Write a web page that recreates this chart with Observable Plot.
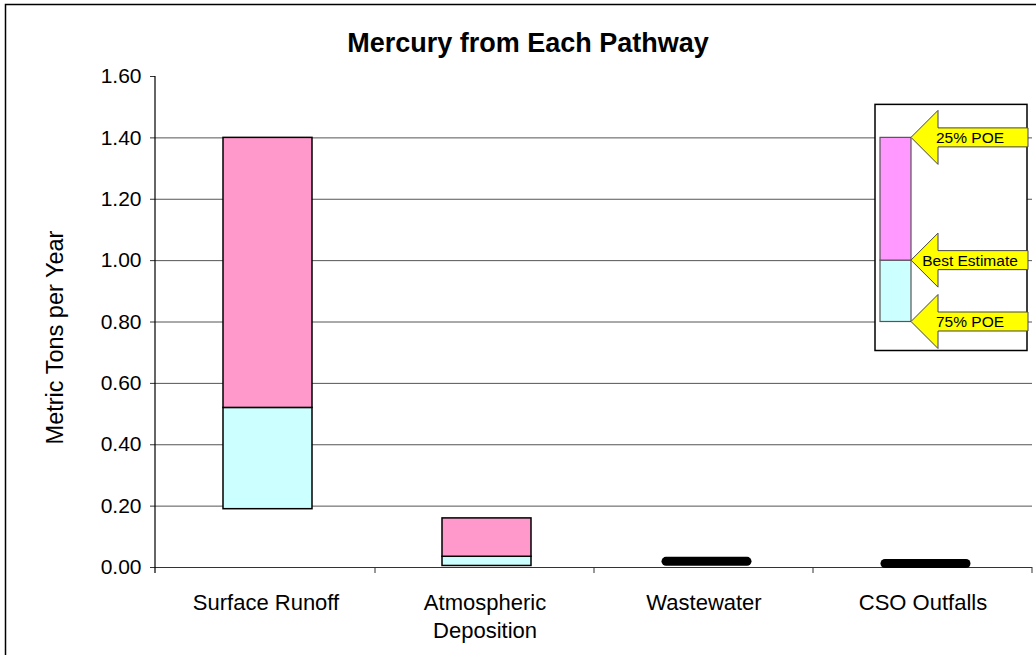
<!DOCTYPE html>
<html>
<head>
<meta charset="utf-8">
<script src="https://cdn.jsdelivr.net/npm/d3@7"></script>
<script src="https://cdn.jsdelivr.net/npm/@observablehq/plot@0.6"></script>
<style>
  html, body { margin: 0; padding: 0; background: #fff; }
  #chart { width: 1036px; height: 655px; overflow: hidden; }
</style>
</head>
<body>
<div id="chart"></div>
<script>
// ---- data ----
const categories = ["Surface Runoff", "Atmospheric Deposition", "Wastewater", "CSO Outfalls"];
const categoryLabels = ["Surface Runoff", "Atmospheric\nDeposition", "Wastewater", "CSO Outfalls"];
const low75 = [0.19, 0.005, 0.017, 0.011];   // 75% POE
const best = [0.52, 0.035, 0.020, 0.013];    // Best Estimate
const high25 = [1.40, 0.16, 0.023, 0.015];   // 25% POE
const yTicks = [0, 0.2, 0.4, 0.6, 0.8, 1.0, 1.2, 1.4, 1.6];
const gridTicks = [0.2, 0.4, 0.6, 0.8, 1.0, 1.2, 1.4];
const titleText = "Mercury from Each Pathway";
const yLabel = "Metric Tons per Year";
const legendLevels = [1.4, 1.0, 0.8];
const legendLabels = ["25% POE", "Best Estimate", "75% POE"];

const table = categories.map((c, i) => ({category: c, low: low75[i], best: best[i], high: high25[i]}));
const wide = table.filter(d => d.high - d.low >= 0.05);
const thin = table.filter(d => d.high - d.low < 0.05);
const labelOf = new Map(categories.map((c, i) => [c, categoryLabels[i]]));

const FONT = "'Liberation Sans', Arial, Helvetica, sans-serif";

const plot = Plot.plot({
  width: 1036,
  height: 655,
  marginLeft: 155,
  marginRight: 4,
  marginTop: 76,
  marginBottom: 88,
  style: {fontFamily: FONT, fontSize: "21px", color: "#000", background: "#fff"},
  x: {type: "band", domain: categories, padding: 0, axis: null},
  y: {domain: [0, 1.6], axis: null},
  marks: [
    Plot.gridY(gridTicks, {stroke: "#555", strokeOpacity: 1, strokeWidth: 1}),
    Plot.barY(wide, {x: "category", y1: "low", y2: "best", fill: "#CCFFFF", stroke: "#000", strokeWidth: 1.5, insetLeft: 67, insetRight: 63}),
    Plot.barY(wide, {x: "category", y1: "best", y2: "high", fill: "#FF99CC", stroke: "#000", strokeWidth: 1.5, insetLeft: 67, insetRight: 63}),
    Plot.ruleY([0], {stroke: "#333", strokeWidth: 1}),
    Plot.tickY(thin, {x: "category", y: "best", stroke: "#000", strokeWidth: 9, strokeLinecap: "round", insetLeft: 72, insetRight: 66}),
    Plot.axisY(yTicks, {tickSize: 5, tickPadding: 9, tickFormat: d3.format(".2f"), fontSize: 21, stroke: "#333", label: null}),
    Plot.axisX({tickSize: 0, tickPadding: 23, tickFormat: d => labelOf.get(d), fontSize: 22, lineHeight: 1.27, label: null}),
    Plot.text([titleText], {frameAnchor: "top", dx: -66, dy: -33, text: d => d, fontSize: 27, fontWeight: "bold", lineAnchor: "middle"}),
    Plot.text([yLabel], {frameAnchor: "left", dx: -100, dy: 15.5, text: d => d, rotate: -90, textAnchor: "middle", lineAnchor: "middle", fontSize: 23.5})
  ]
});

document.getElementById("chart").appendChild(plot);

// ---- decorations using the plot's own scales ----
const xs = plot.scale("x");
const ys = plot.scale("y");
const svg = d3.select(plot);
const x0 = xs.range[0], x1 = xs.range[1];
const y0 = ys.apply(0), yTop = ys.apply(1.6);

// y axis line
svg.append("line").attr("x1", x0).attr("x2", x0).attr("y1", yTop).attr("y2", y0 + 6)
  .attr("stroke", "#000").attr("stroke-width", 1.2);
// category boundary ticks
categories.forEach(c => {
  const xr = xs.apply(c) + xs.bandwidth;
  svg.append("line").attr("x1", xr).attr("x2", xr).attr("y1", y0).attr("y2", y0 + 6)
    .attr("stroke", "#333").attr("stroke-width", 1);
});

// legend
const g = svg.append("g");
const boxL = x1 - 157, boxR = x1 - 5;
const boxT = ys.apply(legendLevels[0]) - 33, boxB = ys.apply(legendLevels[2]) + 29;
g.append("rect").attr("x", boxL).attr("y", boxT).attr("width", boxR - boxL).attr("height", boxB - boxT)
  .attr("fill", "#fff").attr("stroke", "#000").attr("stroke-width", 1.5);
const barL = boxL + 5, barR = boxL + 36;
g.append("rect").attr("x", barL).attr("y", ys.apply(legendLevels[1])).attr("width", barR - barL)
  .attr("height", ys.apply(legendLevels[2]) - ys.apply(legendLevels[1]))
  .attr("fill", "#CCFFFF").attr("stroke", "#555").attr("stroke-width", 1.2);
g.append("rect").attr("x", barL).attr("y", ys.apply(legendLevels[0])).attr("width", barR - barL)
  .attr("height", ys.apply(legendLevels[1]) - ys.apply(legendLevels[0]))
  .attr("fill", "#FF99FF").attr("stroke", "#555").attr("stroke-width", 1.2);
legendLevels.forEach((v, i) => {
  const yv = ys.apply(v);
  const tip = barR, headX = barR + 27, endX = boxR + 1, hh = 27, sh = 9.5;
  const pts = [[tip, yv], [headX, yv - hh], [headX, yv - sh], [endX, yv - sh], [endX, yv + sh], [headX, yv + sh], [headX, yv + hh]];
  g.append("polygon").attr("points", pts.map(p => p.join(",")).join(" "))
    .attr("fill", "#FFFF00").attr("stroke", "#444").attr("stroke-width", 1);
  g.append("text").attr("x", barR + 59).attr("y", yv).attr("dy", "0.36em")
    .attr("text-anchor", "middle").attr("font-size", 15.5).attr("font-family", FONT)
    .attr("fill", "#000").text(legendLabels[i]);
});

// chart area border
svg.append("rect").attr("x", 5.5).attr("y", 4.5).attr("width", 1100).attr("height", 700)
  .attr("fill", "none").attr("stroke", "#000").attr("stroke-width", 1.5);
</script>
</body>
</html>
